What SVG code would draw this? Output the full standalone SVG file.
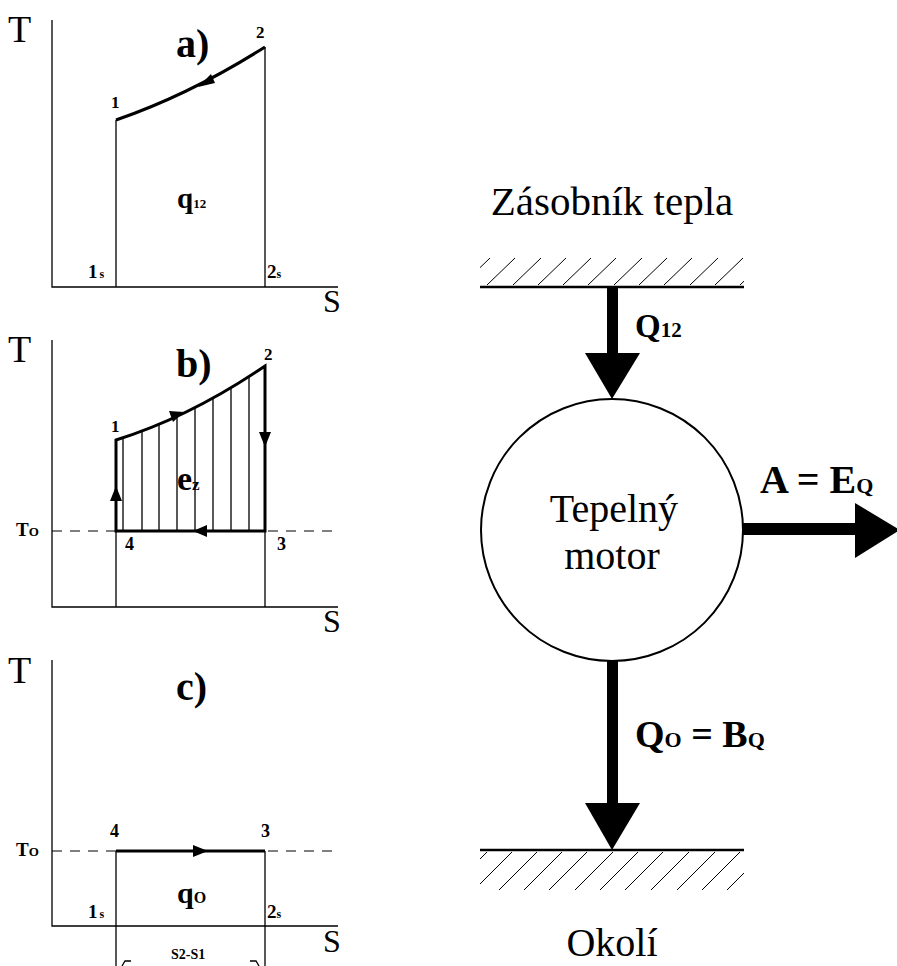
<svg xmlns="http://www.w3.org/2000/svg" width="897" height="966" viewBox="0 0 897 966">
<style>
.thin{stroke:#000;stroke-width:1.3;fill:none}
.bold{stroke:#000;stroke-width:3;fill:none}
.dash{stroke:#000;stroke-width:1.2;fill:none;stroke-dasharray:10 8}
.hatch{stroke:#000;stroke-width:1;fill:none}
.ah{fill:#000;stroke:none}
.rs{font-family:"Liberation Serif","Times New Roman",serif;fill:#000}
.bs{font-family:"Liberation Serif","Times New Roman",serif;font-weight:bold;fill:#000}
</style>
<defs>
<clipPath id="hc"><rect x="480" y="240" width="264" height="660"/></clipPath>
</defs>
<rect width="897" height="966" fill="#fff"/>

<!-- Panel a -->
<g id="panel-a">
<path class="thin" d="M52,20 V287 H338"/>
<path class="thin" d="M116,120 V287 M265,47 V287"/>
<path class="bold" d="M116,120 Q190,94.5 265,47"/>
<polygon class="ah" points="198,87 211,74 215,83"/>
<text class="rs" x="8" y="42" font-size="38">T</text>
<text class="bs" x="176" y="57" font-size="40">a)</text>
<text class="bs" x="256" y="38" font-size="17">2</text>
<text class="bs" x="111" y="108" font-size="17">1</text>
<text class="bs" x="177" y="208" font-size="29">q<tspan font-size="13">12</tspan></text>
<text class="bs" x="88" y="278" font-size="19">1<tspan font-size="12" dx="2">s</tspan></text>
<text class="bs" x="267" y="278" font-size="19">2<tspan font-size="12">s</tspan></text>
<text class="rs" x="323" y="312" font-size="32">S</text>
</g>

<!-- Panel b -->
<g id="panel-b">
<path class="thin" d="M52,340 V607 H338"/>
<path class="dash" d="M52,531 H338"/>
<path class="thin" d="M116,531 V607 M265,531 V607"/>
<path class="thin" d="M123,437.7 V531 M142,431.2 V531 M159,424.4 V531 M177,416.5 V531 M195,407.8 V531 M213,398.2 V531 M231,387.8 V531 M249,376.6 V531"/>
<path class="bold" d="M116,531 V440 Q190,417 265,366 V531 Z"/>
<polygon class="ah" points="184,412 169,411 173,422"/>
<polygon class="ah" points="265,447 259,432 271,432"/>
<polygon class="ah" points="193,531 207,525 207,537"/>
<polygon class="ah" points="116,486 110,501 122,501"/>
<text class="rs" x="8" y="362" font-size="38">T</text>
<text class="bs" x="176" y="377" font-size="40">b)</text>
<text class="bs" x="264" y="360" font-size="17">2</text>
<text class="bs" x="111" y="432" font-size="17">1</text>
<text class="bs" x="177" y="490" font-size="34">e<tspan font-size="17">z</tspan></text>
<text class="bs" x="16" y="536" font-size="19">T<tspan font-size="13">O</tspan></text>
<text class="bs" x="125" y="550" font-size="18">4</text>
<text class="bs" x="277" y="550" font-size="18">3</text>
<text class="rs" x="323" y="632" font-size="32">S</text>
</g>

<!-- Panel c -->
<g id="panel-c">
<path class="thin" d="M52,660 V926 H338"/>
<path class="dash" d="M52,851 H338"/>
<path class="thin" d="M116,851 V966 M265,851 V966"/>
<path class="bold" d="M116,851 H265"/>
<polygon class="ah" points="208,851 193,845 193,857"/>
<path class="thin" d="M122,966 L125,961 L131,961 M259,966 L256,961 L250,961"/>
<text class="rs" x="8" y="683" font-size="38">T</text>
<text class="bs" x="176" y="700" font-size="40">c)</text>
<text class="bs" x="110" y="837" font-size="18">4</text>
<text class="bs" x="261" y="837" font-size="18">3</text>
<text class="bs" x="16" y="856" font-size="19">T<tspan font-size="13">O</tspan></text>
<text class="bs" x="177" y="903" font-size="30">q<tspan font-size="16">O</tspan></text>
<text class="bs" x="88" y="918" font-size="19">1<tspan font-size="12" dx="2">s</tspan></text>
<text class="bs" x="267" y="918" font-size="19">2<tspan font-size="12">s</tspan></text>
<text class="rs" x="323" y="952" font-size="32">S</text>
<text class="bs" x="171" y="959" font-size="14">S2-S1</text>
</g>

<!-- Right: heat engine -->
<g id="reservoir-hot">
<text class="rs" x="612" y="215" font-size="41" text-anchor="middle">Zásobník tepla</text>
<g clip-path="url(#hc)">
<path class="hatch" d="M462,285 l28,-27 M487,285 l28,-27 M513,285 l28,-27 M538,285 l28,-27 M563,285 l28,-27 M588,285 l28,-27 M614,285 l28,-27 M639,285 l28,-27 M664,285 l28,-27 M690,285 l28,-27 M715,285 l28,-27 M740,285 l28,-27"/>
</g>
<path stroke="#000" stroke-width="2.5" d="M480,287 H744"/>
</g>

<g id="engine">
<circle cx="612" cy="530" r="131" fill="none" stroke="#000" stroke-width="2"/>
<text class="rs" x="614" y="522" font-size="40" text-anchor="middle">Tepelný</text>
<text class="rs" x="612" y="569" font-size="40" text-anchor="middle">motor</text>
</g>

<g id="reservoir-cold">
<path stroke="#000" stroke-width="2.5" d="M480,850 H744"/>
<g clip-path="url(#hc)">
<path class="hatch" d="M449,890 l38,-38 M474,890 l38,-38 M499,890 l38,-38 M524,890 l38,-38 M549,890 l38,-38 M575,890 l38,-38 M600,890 l38,-38 M625,890 l38,-38 M651,890 l38,-38 M677,890 l38,-38 M702,890 l38,-38 M727,890 l38,-38"/>
</g>
<text class="rs" x="612" y="956" font-size="40" text-anchor="middle">Okolí</text>
</g>

<g id="connectors">
<rect x="607" y="287" width="11" height="67" fill="#000"/>
<polygon class="ah" points="585,353 640,353 612,399"/>
<rect x="607" y="661" width="11" height="143" fill="#000"/>
<polygon class="ah" points="585,803 640,803 612,850"/>
<rect x="742" y="523" width="114" height="12" fill="#000"/>
<polygon class="ah" points="855,503 855,558 900,530"/>
<text class="bs" x="635" y="337" font-size="33">Q<tspan font-size="21">12</tspan></text>
<text class="bs" x="635" y="747" font-size="38">Q<tspan font-size="22">O</tspan> = B<tspan font-size="22">Q</tspan></text>
<text class="bs" x="760" y="493" font-size="40">A = E<tspan font-size="22">Q</tspan></text>
</g>
</svg>
